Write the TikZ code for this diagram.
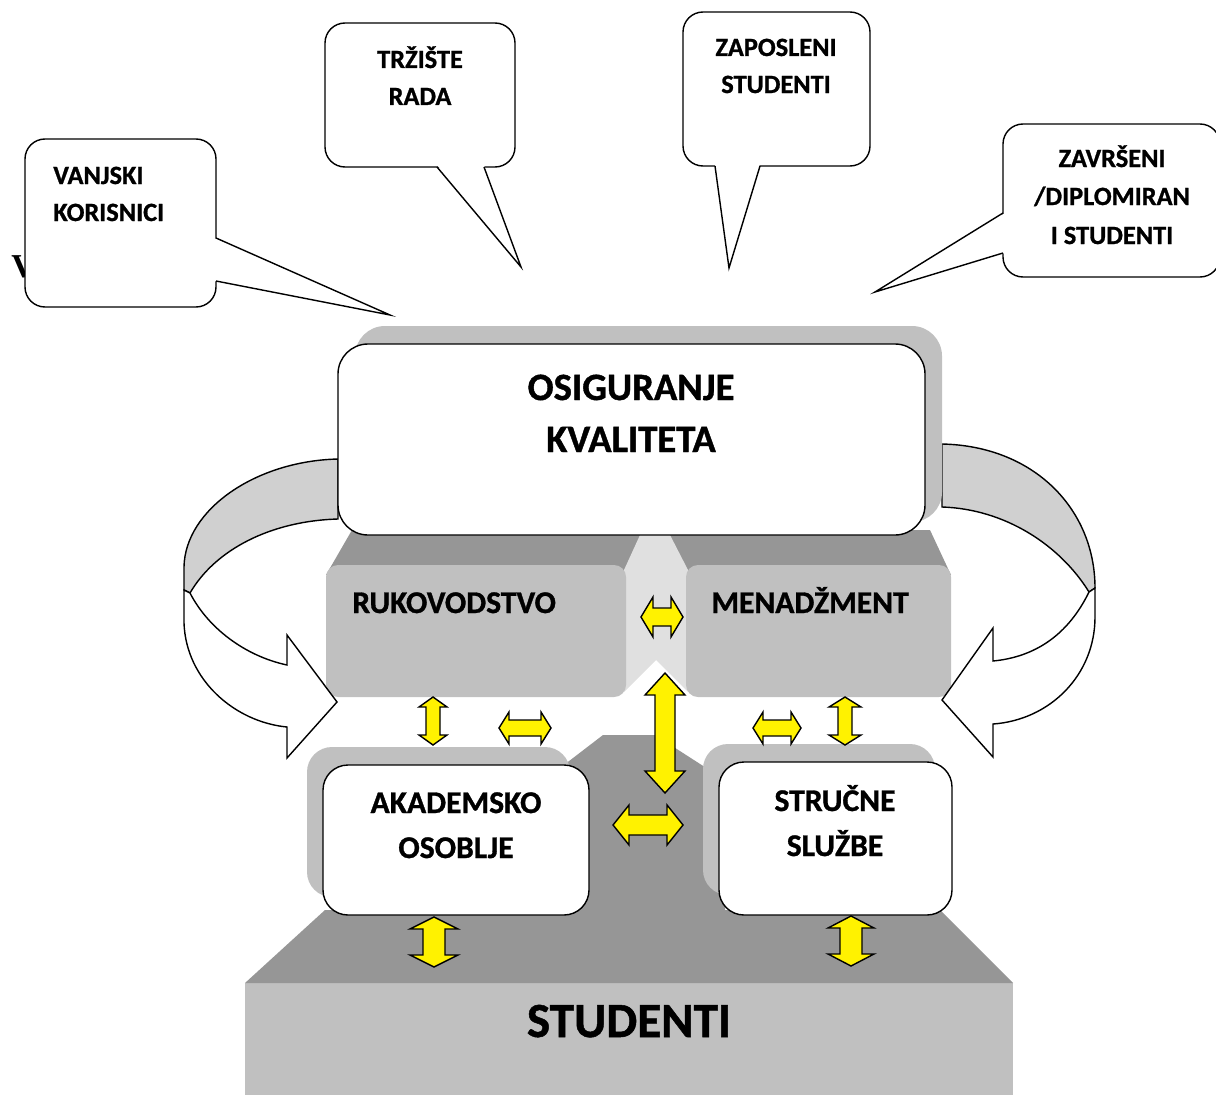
\documentclass[tikz,border=0pt]{standalone}
\usepackage{fontspec}
\setmainfont{Carlito}[BoldFeatures={FakeBold=1}]
\newfontfamily\serifface{Liberation Serif}
\usetikzlibrary{positioning}

\definecolor{darkface}{RGB}{150,150,150}
\definecolor{lightface}{RGB}{192,192,192}
\definecolor{bandgray}{RGB}{208,208,208}
\definecolor{notchgray}{RGB}{224,224,224}

\tikzset{
  bubble/.style={draw=black, fill=white, thick, rounded corners=0.4cm},
  yarrow/.style={draw=black, fill=yellow, line width=0.8pt},
  pics/dbl/.style args={#1/#2/#3/#4}{code={
    \draw[yarrow] (-#1,0) -- (-#1+#4,-#2) -- (-#1+#4,-#3) -- (#1-#4,-#3)
      -- (#1-#4,-#2) -- (#1,0) -- (#1-#4,#2) -- (#1-#4,#3)
      -- (-#1+#4,#3) -- (-#1+#4,#2) -- cycle;
  }},
}

\begin{document}
\begin{tikzpicture}[x=0.02cm, y=-0.02cm,
    bubtext/.style={font=\bfseries\fontsize{15}{18}\selectfont, inner sep=0pt, anchor=base},
    midtext/.style={font=\bfseries\fontsize{18}{22}\selectfont, inner sep=0pt, anchor=base},
    bigtext/.style={font=\bfseries\fontsize{22}{26}\selectfont, inner sep=0pt, anchor=base}]
\useasboundingbox (0,0) rectangle (1216,1095);

% stray letter behind the first bubble
\node[font=\serifface\bfseries\fontsize{19}{20}\selectfont, inner sep=0pt, anchor=base west] (strayv) at (11,277) {V};

% speech bubbles
\draw[bubble] (25,139) rectangle (216,307);
\fill[white] (214,238) -- (390,315) -- (214,281) -- cycle;
\draw[thick] (216,238) -- (390,315) -- (216,281);
\node[bubtext, anchor=base west] (vanj1) at (53,184) {VANJSKI};
\node[bubtext, anchor=base west] (vanj2) at (53,221) {KORISNICI};

\draw[bubble] (325,23) rectangle (515,167);
\fill[white] (437,165) -- (521,267) -- (484,165) -- cycle;
\draw[thick] (437,167) -- (521,267) -- (484,167);
\node[bubtext] (trz1) at (420,68) {TRŽIŠTE};
\node[bubtext] (trz2) at (420,105) {RADA};

\draw[bubble] (683,12) rectangle (870,166);
\fill[white] (715,164) -- (729,268) -- (760,164) -- cycle;
\draw[thick] (715,166) -- (729,268) -- (760,166);
\node[bubtext] (zap1) at (776,56) {ZAPOSLENI};
\node[bubtext] (zap2) at (776,93) {STUDENTI};

\draw[bubble] (1003,124) rectangle (1220,277);
\fill[white] (1005,213) -- (875,292) -- (1005,253) -- cycle;
\draw[thick] (1003,213) -- (875,292) -- (1003,253);
\node[bubtext] (zav1) at (1112,167) {ZAVRŠENI};
\node[bubtext] (zav2) at (1112,205) {/DIPLOMIRAN};
\node[bubtext] (zav3) at (1112,244) {I STUDENTI};

% management block
\fill[darkface] (352,530) -- (326,575) -- (951,575) -- (930,530) -- cycle;
\fill[notchgray] (640,535) -- (670,535) -- (688,570) -- (688,692) -- (656,660)
  -- (624,692) -- (624,570) -- cycle;
\fill[lightface, rounded corners=0.24cm] (326,565) rectangle (626,697);
\fill[lightface, rounded corners=0.24cm] (686,565) rectangle (951,697);
\node[midtext, anchor=base west] (ruk) at (352,613) {RUKOVODSTVO};
\node[midtext, anchor=base west] (men) at (711,613) {MENADŽMENT};

% students block
\fill[lightface] (245,983) rectangle (1013,1095);
\fill[darkface] (245,983) -- (325,910) -- (560,910) -- (560,768) -- (603,735)
  -- (655,735) -- (725,780) -- (725,910) -- (940,910) -- (1013,983) -- cycle;
\node[font=\bfseries\fontsize{28}{32}\selectfont, inner sep=0pt, anchor=base] (stud) at (629,1037) {STUDENTI};

\fill[lightface, rounded corners=0.5cm] (307,747) rectangle (570,897);
\draw[thick, fill=white, rounded corners=0.5cm] (323,765) rectangle (589,915);
\node[midtext] (akad1) at (456,813) {AKADEMSKO};
\node[midtext] (akad2) at (456,858) {OSOBLJE};

\fill[lightface, rounded corners=0.5cm] (703,744) rectangle (935,895);
\draw[thick, fill=white, rounded corners=0.5cm] (719,762) rectangle (952,915);
\node[midtext] (str1) at (835,811) {STRUČNE};
\node[midtext] (str2) at (835,856) {SLUŽBE};

% turning arrows
\draw[thick, fill=bandgray] (338,459) .. controls (255,461) and (185,510) .. (184,567)
  -- (184,590) -- (190,593) .. controls (215,550) and (270,521) .. (338,519) -- cycle;
\draw[thick, fill=white] (190,593) .. controls (208,628) and (245,656) .. (287,665)
  -- (287,635) -- (337,702) -- (287,758) -- (287,727)
  .. controls (235,722) and (186,680) .. (184,623) -- (184,590) -- cycle;

\draw[thick, fill=bandgray] (942,444) .. controls (1035,446) and (1095,510) .. (1095,588)
  -- (1089,592) .. controls (1060,545) and (1005,509) .. (942,507) -- cycle;
\draw[thick, fill=white] (1089,592) .. controls (1068,635) and (1035,657) .. (993,661)
  -- (993,628) -- (942,700) -- (993,757) -- (993,724)
  .. controls (1050,720) and (1095,675) .. (1095,617) -- (1095,588) -- cycle;

% quality block
\fill[lightface, rounded corners=0.6cm] (355,326) rectangle (942,522);
\draw[thick, fill=white, rounded corners=0.6cm] (338,344) rectangle (925,535);
\node[bigtext] (osig1) at (631,400) {OSIGURANJE};
\node[bigtext] (osig2) at (631,452) {KVALITETA};

% yellow double arrows
\pic (rm) at (662,617) {dbl={21/20/9/12}};
\pic[rotate=90] (ra) at (433,721) {dbl={24/14/7/10}};
\pic (rs) at (525,728) {dbl={26/16/8/10}};
\pic[rotate=90] (mid) at (665,733) {dbl={60/20/10/22}};
\pic (as) at (648,825) {dbl={35/20/10/16}};
\pic (ms) at (777,728) {dbl={24/16/8/10}};
\pic[rotate=90] (mv) at (845,721) {dbl={24/16/7/10}};
\pic[rotate=90] (ast) at (434,942) {dbl={25/24/11/12}};
\pic[rotate=90] (sst) at (851,941) {dbl={25/23/11/12}};
\end{tikzpicture}
\end{document}
